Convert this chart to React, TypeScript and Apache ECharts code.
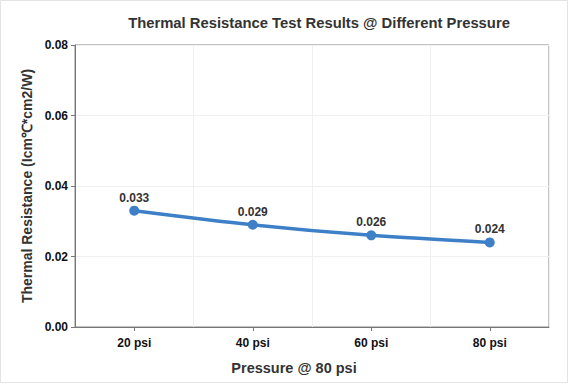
import React, { useEffect, useRef } from "react";
import * as echarts from "echarts";

const categories = ["20 psi", "40 psi", "60 psi", "80 psi"];
const values = [0.033, 0.029, 0.026, 0.024];
const yTicks = [0, 0.02, 0.04, 0.06, 0.08];

export default function App() {
  const ref = useRef<HTMLDivElement>(null);
  useEffect(() => {
    document.body.style.margin = "0";
    const chart = echarts.init(ref.current!, null, { renderer: "svg" });
    const font = "'Liberation Sans', Arial, sans-serif";
    chart.setOption({
      animation: false,
      backgroundColor: "#ffffff",
      textStyle: { fontFamily: font },
      title: {
        text: "Thermal Resistance Test Results @ Different Pressure",
        left: 314,
        textAlign: "center",
        top: 10,
        textStyle: { fontSize: 14.8, fontWeight: "bold", color: "#333333", fontFamily: font },
      },
      grid: { left: 75, right: 27, top: 45, bottom: 57 },
      xAxis: {
        type: "category",
        data: categories,
        boundaryGap: true,
        name: "Pressure @ 80 psi",
        nameLocation: "middle",
        nameGap: 33,
        nameTextStyle: {
          fontSize: 14.5,
          fontWeight: "bold",
          color: "#333333",
          fontFamily: font,
          padding: [0, 36, 0, 0],
        },
        axisLine: { show: true, lineStyle: { color: "#777777", width: 1 } },
        axisTick: { show: true, alignWithLabel: true, length: 4, lineStyle: { color: "#777777" } },
        axisLabel: { fontSize: 12, fontWeight: "bold", color: "#111111", margin: 10, fontFamily: font },
        splitLine: { show: true, interval: 0, lineStyle: { color: "#f0f0f0" } },
      },
      yAxis: {
        type: "value",
        min: yTicks[0],
        max: yTicks[yTicks.length - 1],
        interval: 0.02,
        name: "Thermal Resistance (Icm℃*cm2/W)",
        nameLocation: "middle",
        nameGap: 38,
        nameTextStyle: { fontSize: 14, fontWeight: "bold", color: "#333333", fontFamily: font },
        axisLine: { show: true, lineStyle: { color: "#777777", width: 1 } },
        axisTick: { show: true, length: 4, lineStyle: { color: "#777777" } },
        axisLabel: {
          fontSize: 12,
          fontWeight: "bold",
          color: "#111111",
          margin: 7,
          fontFamily: font,
          formatter: (v: number) => v.toFixed(2),
        },
        splitLine: { show: true, lineStyle: { color: "#f0f0f0" } },
      },
      graphic: [
        {
          type: "rect",
          shape: { x: 75, y: 45, width: 474, height: 282 },
          style: { fill: "none", stroke: "#888888", lineWidth: 1 },
          silent: true,
        },
        {
          type: "rect",
          shape: { x: 0.5, y: 0.5, width: 567, height: 382 },
          style: { fill: "none", stroke: "#e4e4e4", lineWidth: 1 },
          silent: true,
        },
      ],
      series: [
        {
          type: "line",
          data: values,
          smooth: 0.3,
          symbol: "circle",
          symbolSize: 10,
          lineStyle: { color: "#3d80c8", width: 3.5 },
          itemStyle: { color: "#3d80c8" },
          label: {
            show: true,
            position: "top",
            distance: 2,
            fontSize: 12,
            fontWeight: "bold",
            color: "#333333",
            fontFamily: font,
            formatter: (p: any) => p.value.toFixed(3),
          },
        },
      ],
    });
    return () => chart.dispose();
  }, []);
  return <div ref={ref} style={{ width: 576, height: 384 }} />;
}
